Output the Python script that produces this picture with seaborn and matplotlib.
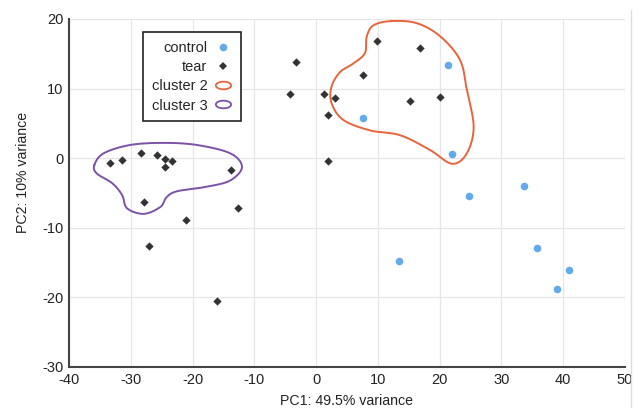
import numpy as np
import pandas as pd
import matplotlib
matplotlib.use("Agg")
import matplotlib.pyplot as plt
from matplotlib.lines import Line2D
from matplotlib.path import Path
import seaborn as sns

# PCA scores
control_pc1 = [21.3, 7.6, 22.0, 24.7, 33.7, 35.7, 40.9, 39.0, 13.4]
control_pc2 = [13.4, 5.8, 0.6, -5.4, -4.0, -12.9, -16.1, -18.8, -14.8]

tear_pc1 = [-33.3, -31.4, -28.3, -25.8, -24.5, -23.3, -24.5, -13.8, -27.9,
            -12.6, -21.1, -27.0, -16.1, -3.2, -4.2, 1.3, 3.1, 1.9, 2.0,
            9.8, 16.8, 7.6, 15.2, 20.0]
tear_pc2 = [-0.7, -0.3, 0.7, 0.4, -0.1, -0.4, -1.3, -1.7, -6.3,
            -7.1, -8.9, -12.6, -20.5, 13.8, 9.2, 9.2, 8.6, 6.2, -0.4,
            16.9, 15.9, 12.0, 8.2, 8.8]

# Hand-drawn cluster boundaries (control points of closed curves)
cluster2_x = [12.2, 9.3, 8.2, 7.9, 6.0, 3.9, 2.5, 2.5, 4.4, 8.7, 13.6, 18.4,
              22.0, 24.4, 25.5, 24.4, 23.3, 20.1, 16.3]
cluster2_y = [19.7, 19.1, 17.5, 15.1, 13.6, 12.4, 10.3, 7.9, 5.5, 4.0, 3.3, 1.2,
              -0.8, 0.7, 4.5, 9.8, 14.1, 17.5, 19.4]
cluster3_x = [-35.9, -34.4, -30.1, -24.7, -19.3, -13.9, -12.0, -13.9, -17.7,
              -22.5, -24.2, -25.2, -27.9, -30.6, -31.4, -33.0, -35.5]
cluster3_y = [-1.0, 0.7, 1.9, 2.2, 1.9, 0.7, -1.25, -3.2, -4.1,
              -4.75, -5.6, -7.0, -8.0, -7.2, -5.3, -3.6, -2.2]

x_ticks = [-40, -30, -20, -10, 0, 10, 20, 30, 40, 50]
y_ticks = [-30, -20, -10, 0, 10, 20]

BLUE = "#64aaea"
DARK = "#333333"
ORANGE = "#e8643a"
PURPLE = "#7b52a8"


def closed_spline(xs, ys, n=30):
    """Periodic Catmull-Rom curve through the given points."""
    p = np.column_stack([xs, ys])
    m = len(p)
    out = []
    for i in range(m):
        p0, p1, p2, p3 = p[(i - 1) % m], p[i], p[(i + 1) % m], p[(i + 2) % m]
        t = np.linspace(0, 1, n, endpoint=False)[:, None]
        seg = 0.5 * ((2 * p1) + (-p0 + p2) * t
                     + (2 * p0 - 5 * p1 + 4 * p2 - p3) * t ** 2
                     + (-p0 + 3 * p1 - 3 * p2 + p3) * t ** 3)
        out.append(seg)
    out.append(p[:1])
    c = np.vstack(out)
    return c[:, 0], c[:, 1]


df = pd.DataFrame({
    "PC1": control_pc1 + tear_pc1,
    "PC2": control_pc2 + tear_pc2,
    "group": ["control"] * len(control_pc1) + ["tear"] * len(tear_pc1),
})

sns.set_theme(style="whitegrid")
plt.rcParams["font.family"] = ["Liberation Sans", "DejaVu Sans"]
plt.rcParams["axes.unicode_minus"] = False

fig = plt.figure(figsize=(6.44, 4.08), dpi=100)
ax = fig.add_axes([69 / 644, 1 - 367 / 408, (625 - 69) / 644, (367 - 19) / 408])

sns.scatterplot(data=df[df.group == "control"], x="PC1", y="PC2",
                color=BLUE, marker="o", s=30, linewidth=0,
                legend=False, ax=ax, zorder=3)
sns.scatterplot(data=df[df.group == "tear"], x="PC1", y="PC2",
                color=DARK, marker="D", s=18, linewidth=0,
                legend=False, ax=ax, zorder=3)

cx, cy = closed_spline(cluster2_x, cluster2_y)
ax.plot(cx, cy, color=ORANGE, lw=1.4, zorder=2)
cx, cy = closed_spline(cluster3_x, cluster3_y)
ax.plot(cx, cy, color=PURPLE, lw=1.4, zorder=2)

ax.set_xlim(-40, 50)
ax.set_ylim(-30, 20)
ax.set_xticks(x_ticks)
ax.set_yticks(y_ticks)
ax.tick_params(axis="both", length=0, labelsize=10.5, colors="#222222", pad=4)
ax.grid(True, color="#e6e6e6", lw=0.9)
ax.set_facecolor("white")
for side in ["top", "right"]:
    ax.spines[side].set_visible(False)
for side in ["left", "bottom"]:
    ax.spines[side].set_visible(True)
    ax.spines[side].set_color("#444444")
    ax.spines[side].set_linewidth(1.5)

ax.set_xlabel("PC1: 49.5% variance", fontsize=10.2, color="#222222")
ax.set_ylabel("PC2: 10% variance", fontsize=10.2, color="#222222")
ax.xaxis.set_label_coords(0.5, -0.078)
ax.yaxis.set_label_coords(-0.07, 0.56)

# Legend with ellipse glyphs for the cluster outlines
theta = np.linspace(0, 2 * np.pi, 60)
ellipse = Path(np.column_stack([1.0 * np.cos(theta), 0.5 * np.sin(theta)]))
handles = [
    Line2D([], [], ls="", marker="o", color=BLUE, markersize=5.5, markeredgewidth=0),
    Line2D([], [], ls="", marker="D", color=DARK, markersize=4.0, markeredgewidth=0),
    Line2D([], [], ls="", marker=ellipse, markerfacecolor="none",
           markeredgecolor=ORANGE, markersize=11, markeredgewidth=1.3),
    Line2D([], [], ls="", marker=ellipse, markerfacecolor="none",
           markeredgecolor=PURPLE, markersize=11, markeredgewidth=1.3),
]
leg = ax.legend(handles, ["control", "tear", "cluster 2", "cluster 3"],
                loc="upper left", bbox_to_anchor=((143 - 69) / 556, 1 - (32 - 19) / 348),
                markerfirst=False, fancybox=False, frameon=True, fontsize=10.5,
                handlelength=1.3, handletextpad=0.4, labelspacing=0.36,
                borderpad=0.6, borderaxespad=0)
leg.get_frame().set_edgecolor("#222222")
leg.get_frame().set_linewidth(1.2)
leg.get_frame().set_alpha(1)
for t in leg.get_texts():
    t.set_ha("right")
leg.set_zorder(5)

# thin page edge at the right
fig.add_artist(Line2D([631 / 644, 631 / 644], [0, 1 - 10 / 408],
                      transform=fig.transFigure, color="#dddddd", lw=1))

fig.savefig("out.png", dpi=100)
